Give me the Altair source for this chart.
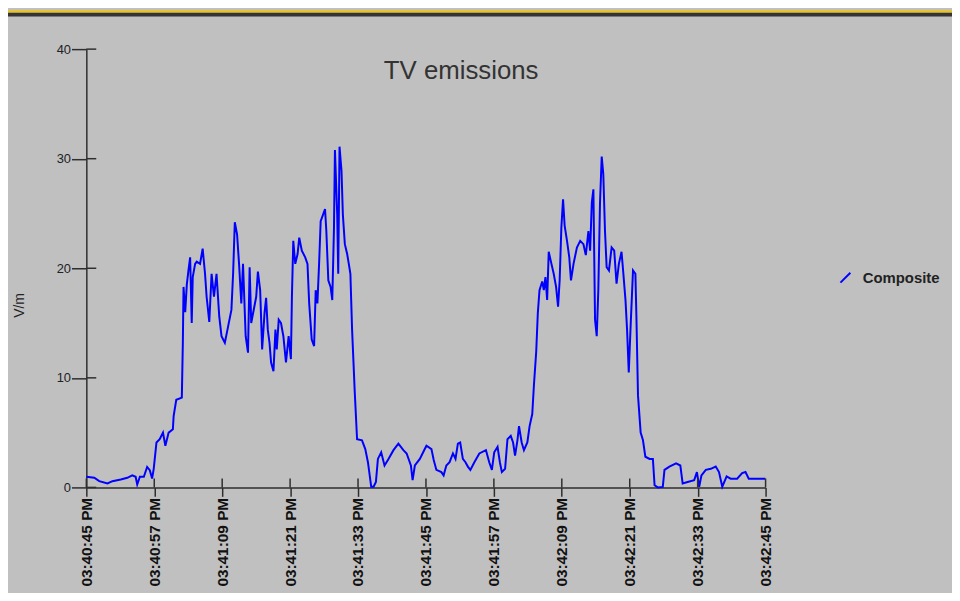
import altair as alt
import pandas as pd

# ---- data ----
seconds = [0.00, 1.40, 2.28, 3.73, 4.61, 6.08, 7.24, 8.11, 8.71, 8.99, 9.46, 10.16, 10.74, 11.21, 11.62, 11.91,
           12.39, 12.96, 13.54, 13.96, 14.54, 15.29, 15.42, 15.89, 16.87, 17.05, 17.17, 17.47, 17.75, 18.04, 18.34,
           18.62, 18.80, 19.22, 19.50, 20.09, 20.55, 20.97, 21.25, 21.72, 22.13, 22.55, 23.00, 23.48, 23.88, 24.47,
           25.05, 25.63, 25.93, 26.23, 26.63, 26.98, 27.38, 27.68, 28.15, 28.56, 28.85, 29.13, 30.01, 30.31, 30.71,
           31.06, 31.48, 31.76, 32.06, 32.36, 32.64, 33.06, 33.41, 33.64, 33.99, 34.39, 34.81, 35.27, 35.74, 36.14,
           36.32, 36.56, 36.91, 37.32, 37.61, 38.07, 38.67, 39.07, 39.37, 39.82, 40.24, 40.52, 40.82, 41.12, 41.40,
           41.82, 42.17, 42.40, 42.75, 43.15, 43.45, 43.75, 43.92, 44.32, 44.50, 44.73, 45.08, 45.32, 45.67, 46.08,
           46.37, 46.65, 46.95, 47.42, 47.83, 48.70, 49.28, 49.75, 50.33, 50.75, 51.16, 51.51, 52.09, 52.68, 53.38,
           54.26, 55.13, 56.01, 56.59, 57.34, 57.64, 58.04, 58.92, 59.79, 60.09, 60.97, 61.37, 61.84, 62.72, 63.12,
           63.60, 64.17, 64.77, 65.22, 65.64, 66.05, 66.52, 66.98, 67.40, 67.85, 68.55, 69.43, 70.60, 71.18, 71.65,
           72.06, 72.65, 73.06, 73.41, 73.98, 74.40, 74.98, 75.39, 75.74, 76.16, 76.44, 76.91, 77.31, 77.91, 78.31,
           78.78, 79.07, 79.48, 79.76, 80.06, 80.54, 80.82, 81.11, 81.41, 81.69, 82.17, 82.57, 82.99, 83.34, 83.62,
           83.92, 84.22, 84.50, 84.92, 85.32, 85.62, 86.07, 86.67, 87.25, 87.82, 88.24, 88.70, 89.00, 89.30, 89.58,
           89.87, 90.17, 90.45, 90.75, 91.05, 91.33, 91.63, 91.92, 92.33, 92.80, 93.26, 93.67, 94.08, 94.55, 94.83,
           95.25, 95.53, 95.83, 96.18, 96.58, 97.00, 97.18, 97.46, 97.93, 98.34, 98.76, 99.51, 100.09, 100.39,
           100.96, 101.84, 102.14, 103.01, 104.19, 104.94, 105.35, 106.22, 107.39, 107.87, 108.27, 108.67, 109.44,
           110.32, 111.19, 111.77, 112.35, 113.12, 113.82, 114.98, 115.86, 116.45, 117.03, 117.91, 119.08, 119.95]

vm = [0.97, 0.88, 0.57, 0.36, 0.57, 0.72, 0.88, 1.1, 0.97, 0.27, 0.97, 0.97, 1.87, 1.57, 0.81, 1.72,
      4.1, 4.4, 5.0, 3.8, 5.0, 5.3, 6.5, 8.0, 8.2, 13.2, 18.3, 16.0, 18.5, 19.8, 21.0,
      15.0, 19.2, 20.4, 20.6, 20.4, 21.8, 19.5, 17.4, 15.1, 19.5, 17.4, 19.5, 15.6, 13.8, 13.2,
      14.7, 16.2, 19.5, 24.2, 23.1, 20.4, 16.8, 20.4, 13.8, 12.3, 20.1, 15.0, 17.4, 19.7, 18.0,
      12.6, 15.9, 17.3, 14.4, 13.2, 11.4, 10.6, 14.4, 12.6, 15.3, 15.0, 13.8, 11.4, 13.8, 11.7,
      17.4, 22.5, 20.4, 21.3, 22.8, 21.6, 21.0, 20.4, 16.8, 13.5, 12.9, 18.0, 16.8, 20.4, 24.3,
      24.9, 25.4, 23.4, 18.9, 18.3, 17.1, 23.7, 30.8, 24.9, 19.5, 31.1, 28.9, 24.9, 22.2, 21.3,
      20.4, 19.5, 14.4, 8.7, 4.4, 4.3, 3.5, 2.3, 0.06, 0.06, 0.5, 2.6, 3.2, 2.0, 2.6,
      3.4, 4.0, 3.4, 3.1, 2.0, 0.66, 2.0, 2.6, 3.5, 3.8, 3.5, 2.5, 1.6, 1.4, 1.1,
      2.0, 2.3, 3.1, 2.6, 4.0, 4.1, 2.6, 2.3, 1.9, 1.6, 2.3, 3.1, 3.4, 2.3, 1.6,
      3.2, 3.7, 2.3, 1.4, 1.7, 4.4, 4.7, 4.1, 2.9, 4.3, 5.6, 4.1, 3.4, 4.1, 5.6,
      6.7, 9.3, 12.4, 15.9, 18.0, 18.8, 18.0, 19.2, 17.1, 21.5, 20.4, 19.5, 18.3, 16.5, 18.9,
      23.7, 26.3, 23.9, 22.5, 21.0, 18.9, 20.4, 21.9, 22.5, 22.2, 21.2, 23.4, 21.6, 26.0, 27.2,
      15.3, 13.8, 18.0, 26.0, 30.2, 28.6, 23.4, 20.1, 19.8, 21.9, 21.6, 18.6, 20.4, 21.5, 19.8,
      17.1, 14.4, 10.5, 15.0, 19.8, 19.5, 15.6, 8.4, 5.0, 4.3, 2.8, 2.6, 2.6, 0.2,
      0.0, 0.05, 1.6, 1.9, 2.2, 2.0, 0.36, 0.5, 0.66, 1.4, 0.06, 1.1, 1.6,
      1.7, 1.9, 1.4, 0.06, 1.0, 0.8, 0.8, 1.3, 1.4, 0.8, 0.8, 0.8, 0.8]

tick_times = ["15:40:45", "15:40:57", "15:41:09", "15:41:21", "15:41:33", "15:41:45",
              "15:41:57", "15:42:09", "15:42:21", "15:42:33", "15:42:45"]
y_ticks = [0, 10, 20, 30, 40]
series_name = "Composite"
title_text = "TV emissions"
y_title = "V/m"

# ---- build tables ----
base = pd.Timestamp("2024-01-01 15:40:45")
times = [(base + pd.Timedelta(seconds=s)).strftime("%Y-%m-%dT%H:%M:%S.%f")[:-3] for s in seconds]
df = pd.DataFrame({"time": times, "vm": vm, "series": series_name})
xtick_df = pd.DataFrame({"time": ["2024-01-01T" + t for t in tick_times]})
ytick_df = pd.DataFrame({"vm": y_ticks})


def dt(hms):
    h, m, s = (int(p) for p in hms.split(":"))
    return alt.DateTime(year=2024, month=1, date=1, hours=h, minutes=m, seconds=s)


FONT = "Liberation Sans"
AX = "#2e2e2e"
W, H = 685, 442
TOTAL_W, TOTAL_H = 952, 585
PAD_L, PAD_T = 79, 39

xscale = alt.Scale(domain=[dt(tick_times[0]), dt(tick_times[-1])], nice=False)
yscale = alt.Scale(domain=[0, 40], nice=False)

xaxis = alt.Axis(values=[dt(t) for t in tick_times], format="%I:%M:%S %p", labelAngle=-90,
                 labelFont=FONT, labelFontSize=15.5, labelFontWeight="bold", labelColor="#111",
                 labelPadding=1, labelFlush=False, labelOverlap=False,
                 tickSize=9, tickColor=AX, tickWidth=1.5, domainColor=AX, domainWidth=1.5,
                 grid=False, title=None)
yaxis = alt.Axis(values=y_ticks, labelFont=FONT, labelFontSize=13, labelColor="#222",
                 labelPadding=1, labelFlush=False, tickSize=15, tickColor=AX, tickWidth=1.5,
                 domainColor=AX, domainWidth=1.5, grid=False,
                 title=y_title, titleFont=FONT, titleFontSize=14, titleFontWeight="normal",
                 titleColor="#222", titleAngle=-90, titleX=-67, titleY=258,
                 titleAlign="center", titleBaseline="middle")

line = alt.Chart(df).mark_line(strokeWidth=2).encode(
    x=alt.X("time:T", scale=xscale, axis=xaxis),
    y=alt.Y("vm:Q", scale=yscale, axis=yaxis),
    color=alt.Color("series:N", scale=alt.Scale(range=["#0000ff"]),
                    legend=alt.Legend(orient="none", legendX=758, legendY=223, title=None,
                                      labelFont=FONT, labelFontSize=15, labelFontWeight="bold",
                                      labelColor="#222", symbolType="M-1,1L1,-1", symbolSize=100,
                                      symbolStrokeWidth=2, labelOffset=10)),
)

xticks_in = alt.Chart(xtick_df).mark_rule(color=AX, strokeWidth=1.5).encode(
    x=alt.X("time:T", scale=xscale), y=alt.value(H - 9), y2=alt.value(H))
yticks_in = alt.Chart(ytick_df).mark_rule(color=AX, strokeWidth=1.5).encode(
    y=alt.Y("vm:Q", scale=yscale), x=alt.value(0), x2=alt.value(10))

one = alt.Data(values=[{"k": 1}])
bar_dark = alt.Chart(one).mark_rect(color="#333338", clip=False).encode(
    x=alt.value(-PAD_L), x2=alt.value(TOTAL_W - PAD_L), y=alt.value(-PAD_T + 2), y2=alt.value(-PAD_T + 6))
bar_yellow = alt.Chart(one).mark_rect(color="#f2c300", clip=False).encode(
    x=alt.value(-PAD_L), x2=alt.value(TOTAL_W - PAD_L), y=alt.value(-PAD_T), y2=alt.value(-PAD_T + 2))

# chart title as a text mark centred above the plot
title_mark = alt.Chart(one).mark_text(
    text=title_text, font=FONT, fontSize=26, color="#333", align="center", baseline="alphabetic"
).encode(x=alt.value(378), y=alt.value(30))

chart = alt.layer(bar_dark, bar_yellow, title_mark, line, xticks_in, yticks_in).properties(
    width=W, height=H,
    padding={"left": PAD_L, "top": PAD_T, "right": TOTAL_W - PAD_L - W, "bottom": TOTAL_H - PAD_T - H},
    autosize=alt.AutoSizeParams(type="none"),
    background="#c0c0c0",
).configure_view(stroke=None)

chart.save("out.html", embed_options={"renderer": "svg", "actions": False})
